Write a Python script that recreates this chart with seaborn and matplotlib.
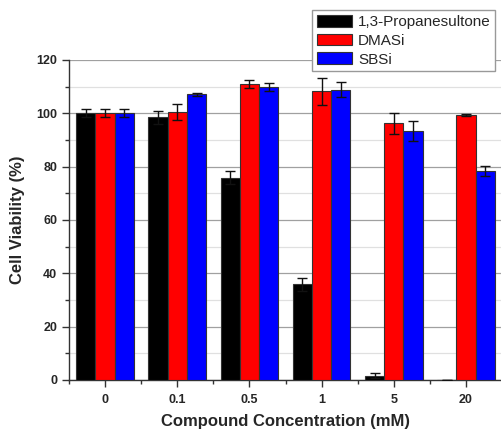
import numpy as np
import pandas as pd
import seaborn as sns
import matplotlib.pyplot as plt
from matplotlib.ticker import MultipleLocator

concentrations = ["0", "0.1", "0.5", "1", "5", "20"]
compounds = ["1,3-Propanesultone", "DMASi", "SBSi"]
propanesultone = [100.0, 98.5, 75.9, 35.9, 1.6, 0.0]
dmasi = [100.0, 100.5, 111.1, 108.2, 96.2, 99.3]
sbsi = [100.0, 107.2, 109.9, 108.8, 93.5, 78.5]
propanesultone_err = [1.5, 2.5, 2.5, 2.5, 1.0, 0.0]
dmasi_err = [1.5, 3.0, 1.5, 4.9, 4.0, 0.4]
sbsi_err = [1.5, 0.6, 1.5, 2.8, 3.7, 1.9]
colors = ["#000000", "#ff0000", "#0000ff"]

sns.set_style("white")
plt.rcParams['font.family'] = ['Liberation Sans', 'DejaVu Sans']

df = pd.DataFrame({
    "conc": concentrations * 3,
    "compound": np.repeat(compounds, len(concentrations)),
    "viability": propanesultone + dmasi + sbsi,
    "err": propanesultone_err + dmasi_err + sbsi_err,
})

fig = plt.figure(figsize=(5.02, 4.30), dpi=100)
ax = fig.add_axes([0.1375, 0.1163, 0.8625, 0.7442])

sns.barplot(data=df, x="conc", y="viability", hue="compound", order=concentrations,
            hue_order=compounds, palette=colors, errorbar=None, width=0.8,
            edgecolor="#333333", linewidth=0.8, saturation=1, ax=ax, zorder=3)

# error bars, centred on each drawn bar
for i, comp in enumerate(compounds):
    sub = df[df.compound == comp].set_index("conc").loc[concentrations]
    bars = ax.containers[i]
    xs = [p.get_x() + p.get_width() / 2 for p in bars]
    ax.errorbar(xs, sub.viability, yerr=sub.err, fmt="none", ecolor="#111111",
                elinewidth=1, capsize=3.5, capthick=1, zorder=4)

ax.set_ylim(0, 120)
ax.set_xlim(-0.5, 5.5)
ax.yaxis.set_major_locator(MultipleLocator(20))
ax.yaxis.set_minor_locator(MultipleLocator(10))
ax.xaxis.set_minor_locator(MultipleLocator(0.5))
ax.grid(axis="y", which="major", color="#a0a0a0", linewidth=0.9, zorder=0)
ax.grid(axis="y", which="minor", color="#e0e0e0", linewidth=0.9, zorder=0)
ax.set_axisbelow(True)

for s in ["top", "right"]:
    ax.spines[s].set_visible(False)
for s in ["left", "bottom"]:
    ax.spines[s].set_color("#333333")
    ax.spines[s].set_linewidth(1)

ax.tick_params(axis="both", which="major", direction="out", length=5, width=1,
               color="#333333", labelsize=9, bottom=True, left=True)
ax.tick_params(axis="x", which="major", pad=5)
ax.tick_params(axis="both", which="minor", direction="out", length=3, width=1,
               color="#333333", bottom=True, left=True)
for lab in ax.get_xticklabels() + ax.get_yticklabels():
    lab.set_fontweight("bold")

ax.set_xlabel("Compound Concentration (mM)", fontsize=12, fontweight="bold", labelpad=6)
ax.set_ylabel("Cell Viability (%)", fontsize=12, fontweight="bold", labelpad=8)

ax.legend(loc="upper left", bbox_to_anchor=(0.622, 0.976), bbox_transform=fig.transFigure,
          frameon=True, fancybox=False, edgecolor="#999999", framealpha=1,
          fontsize=11, handlelength=2.3, handleheight=0.8, borderpad=0.3,
          labelspacing=0.3, handletextpad=0.4, borderaxespad=0)

fig.savefig("out.png", dpi=100)
